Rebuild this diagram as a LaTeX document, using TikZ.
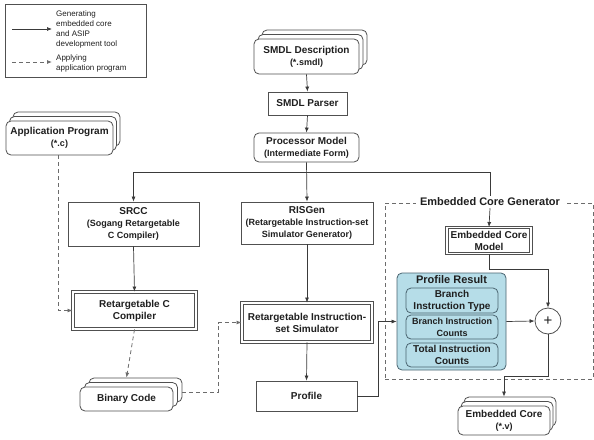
\documentclass[tikz,border=0pt]{standalone}
\usepackage{fontspec}
\setmainfont{Liberation Sans}
\usetikzlibrary{shadows,arrows.meta,calc}
\definecolor{lnc}{HTML}{3A3A3A}
\definecolor{bxc}{HTML}{505050}
\definecolor{blu}{HTML}{B6DDE8}
\definecolor{bluln}{HTML}{4A6470}
\newcommand\subf{\fontsize{9}{12}\selectfont}
\begin{document}
\begin{tikzpicture}[x=1pt,y=-1pt,
 every node/.style={inner sep=0pt, text=black!88},
 box/.style={draw=bxc, line width=0.8pt, fill=white, align=center, font=\fontsize{10}{12}\selectfont\bfseries},
 rbox/.style={box, rounded corners=5pt},
 dbox/.style={box, double=white, double distance=1.3pt, line width=0.9pt},
 doc/.style={rbox, double copy shadow={shadow xshift=#1, shadow yshift=4.5pt, draw=bxc, fill=white, line width=0.8pt}},
 doc/.default=4pt,
 arr/.style={draw=lnc, line width=0.7pt, -{Latex[length=5pt,width=4pt]}},
 lnn/.style={draw=lnc, line width=0.7pt},
 dsh/.style={draw=gray!85!black, line width=0.8pt, dash pattern=on 4pt off 3pt},
 darr/.style={dsh, -{Latex[length=5pt,width=4pt]}},
 blubox/.style={draw=bluln, fill=blu, line width=0.8pt, rounded corners=5pt, align=center, font=\fontsize{10}{12}\selectfont\bfseries},
 lgtext/.style={align=left, anchor=west, font=\fontsize{8}{10}\selectfont}
]
\useasboundingbox (0,0) rectangle (594,439);

% legend
\node[draw=bxc, line width=0.7pt, minimum width=141pt, minimum height=73pt] (legend) at (75.5,40.5) {};
\coordinate (l1a) at (12,29); \coordinate (l1b) at (52,29);
\coordinate (l2a) at (12,62); \coordinate (l2b) at (52,62);
\draw[arr] (l1a) -- (l1b);
\draw[darr] (l2a) -- (l2b);
\node[lgtext] (lt1) at (56,29) {Generating\\embedded core\\and ASIP\\development tool};
\node[lgtext] (lt2) at (56,63) {Applying\\application program};

% top chain
\node[doc, minimum width=105pt, minimum height=35pt] (smdl) at (306.5,56.5) {SMDL Description\\{\subf (*.smdl)}};
\node[box, minimum width=79pt, minimum height=23pt] (parser) at (307.5,103.5) {SMDL Parser};
\node[rbox, minimum width=105pt, minimum height=29pt] (pm) at (306.5,147.5) {Processor Model\\{\subf (Intermediate Form)}};

% left column
\node[doc=3.5pt, minimum width=107pt, minimum height=34pt] (app) at (59.5,138) {Application Program\\{\subf (*.c)}};
\node[box, minimum width=131pt, minimum height=44pt] (srcc) at (133.5,224) {SRCC\\{\subf (Sogang Retargetable}\\{\subf C Compiler)}};
\node[dbox, minimum width=123pt, minimum height=37pt] (rcc) at (134.5,310.5) {Retargetable C\\Compiler};
\node[doc=4.5pt, minimum width=93pt, minimum height=24pt] (bin) at (126.5,399) {Binary Code};

% middle column
\node[box, minimum width=132pt, minimum height=42pt] (risgen) at (307,223) {RISGen\\{\subf (Retargetable Instruction-set}\\{\subf Simulator Generator)}};
\node[dbox, minimum width=130pt, minimum height=39pt] (riss) at (307,322.5) {Retargetable Instruction-\\set Simulator};
\node[box, minimum width=101pt, minimum height=30pt] (prof) at (306.5,396) {Profile};

% embedded core generator
\node[dsh, draw, minimum width=208pt, minimum height=176pt] (ecg) at (489,291) {};
\node[fill=white, inner xsep=4pt, inner ysep=2pt, font=\fontsize{11}{13}\selectfont\bfseries] (ecgt) at (490,202) {Embedded Core Generator};
\node[dbox, minimum width=84pt, minimum height=26pt] (ecm) at (489,240.5) {Embedded Core\\Model};
\node[blubox, minimum width=109pt, minimum height=97pt] (pr) at (451.5,321.5) {};
\node[font=\fontsize{11}{13}\selectfont\bfseries] (prt) at (451.5,280) {Profile Result};
\node[blubox, minimum width=92pt, minimum height=25pt] (pr1) at (452,300.5) {Branch\\Instruction Type};
\node[blubox, minimum width=92pt, minimum height=24pt, font=\fontsize{9}{12}\selectfont\bfseries] (pr2) at (452,327) {Branch Instruction\\Counts};
\node[blubox, minimum width=92pt, minimum height=24pt] (pr3) at (452,355) {Total Instruction\\Counts};
\node[circle, draw=bxc, line width=0.8pt, fill=white, minimum size=26pt, font=\fontsize{15}{15}\selectfont] (plus) at (548,321) {+};
\node[doc=3pt, minimum width=92pt, minimum height=29pt] (ec) at (504,420.5) {Embedded Core\\{\subf (*.v)}};

% connectors
\draw[arr] (smdl.south) -- (parser.north);
\draw[arr] (parser.south) -- (pm.north);
\draw[arr] (pm.south) -- (risgen.north);
\coordinate (hl) at (133.5,172);
\coordinate (hr) at (490,172);
\draw[lnn] (hl) -- (hr) -- (ecgt.north);
\draw[arr] (hl) -- (srcc.north);
\draw[arr] (ecgt.south) -- (ecm.north);
\draw[arr] (srcc.south) -- (rcc.north);
\draw[darr] (rcc.south) -- ([yshift=9pt]bin.north);
\draw[darr] ([xshift=-1.5pt]app.south) |- (rcc.west);
\draw[darr] ([xshift=9pt,yshift=7pt]bin.east) -| ([xshift=-23pt]riss.west) -- (riss.west);
\draw[arr] (risgen.south) -- (riss.north);
\draw[arr] (riss.south) -- (prof.north);
\draw[arr] (prof.east) -| ([xshift=-18pt]pr.west) -- (pr.west);
\draw[arr] (ecm.south) -- ++(0,15) -| (plus.north);
\draw[arr] (pr.east) -- (plus.west);
\draw[arr] (plus.south) -- ++(0,42) -| ([yshift=9pt]ec.north);
\end{tikzpicture}
\end{document}
